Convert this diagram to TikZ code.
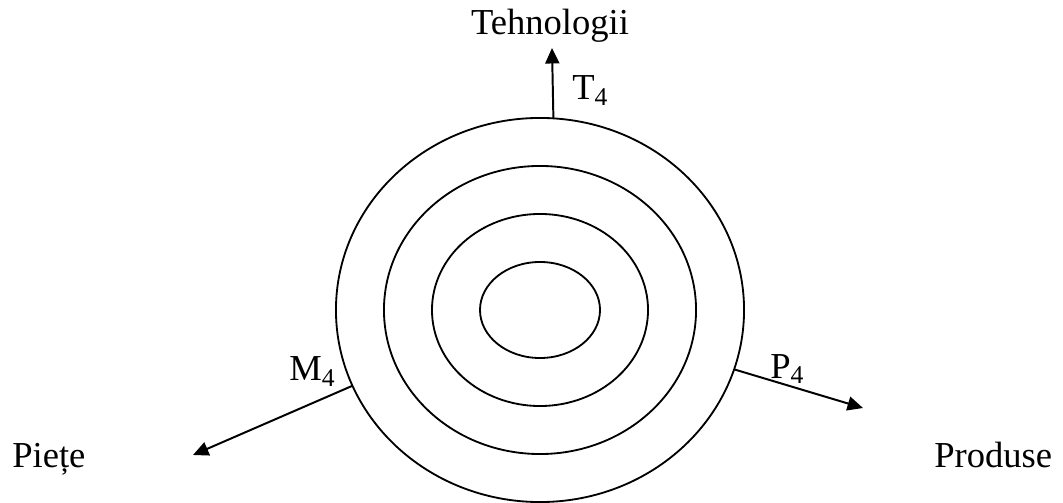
\documentclass[tikz,border=0pt]{standalone}
\usepackage{fontspec}
\setmainfont{Liberation Serif}
\usepackage{tikz}
\usetikzlibrary{arrows.meta, calc, positioning, shapes.geometric}

\begin{document}
\begin{tikzpicture}[x=0.025cm,y=-0.025cm,>={Triangle[length=11pt,width=10pt]},
   ring/.style={ellipse,draw,line width=1.3pt,inner sep=0pt,outer sep=0pt},
   axis/.style={->,line width=1.4pt},
   lbl/.style={inner sep=0pt,font=\fontsize{26}{31}\selectfont}]
  \useasboundingbox (0,0) rectangle (1063,503);
  % concentric rings
  \foreach \i/\w/\h in {1/3/2.4,2/5.4/4.8,3/7.8/7.2,4/10.2/9.6}
    \node[ring,minimum width=\w cm,minimum height=\h cm] (e\i) at (540,310) {};
  % arrow tips
  \coordinate (tipT) at (552,48);
  \coordinate (tipM) at (193,455);
  \coordinate (tipP) at (863,408);
  % axes
  \draw[axis] (e4.86.4) -- (tipT);
  \draw[axis] (e4.202.5) -- (tipM);
  \draw[axis] (e4.343.4) -- (tipP);
  % labels
  \node[lbl,anchor=base] (tech) at (550,35) {Tehnologii};
  \node[lbl,anchor=base west] (t4) at (572,100) {T\textsubscript{4}};
  \node[lbl,anchor=base west] (m4) at (289,381) {M\textsubscript{4}};
  \node[lbl,anchor=base west] (p4) at (770,378) {P\textsubscript{4}};
  \node[lbl,anchor=base west] (piete) at (12,467) {Piețe};
  \node[lbl,anchor=base west] (prod) at (934,467) {Produse};
\end{tikzpicture}
\end{document}
